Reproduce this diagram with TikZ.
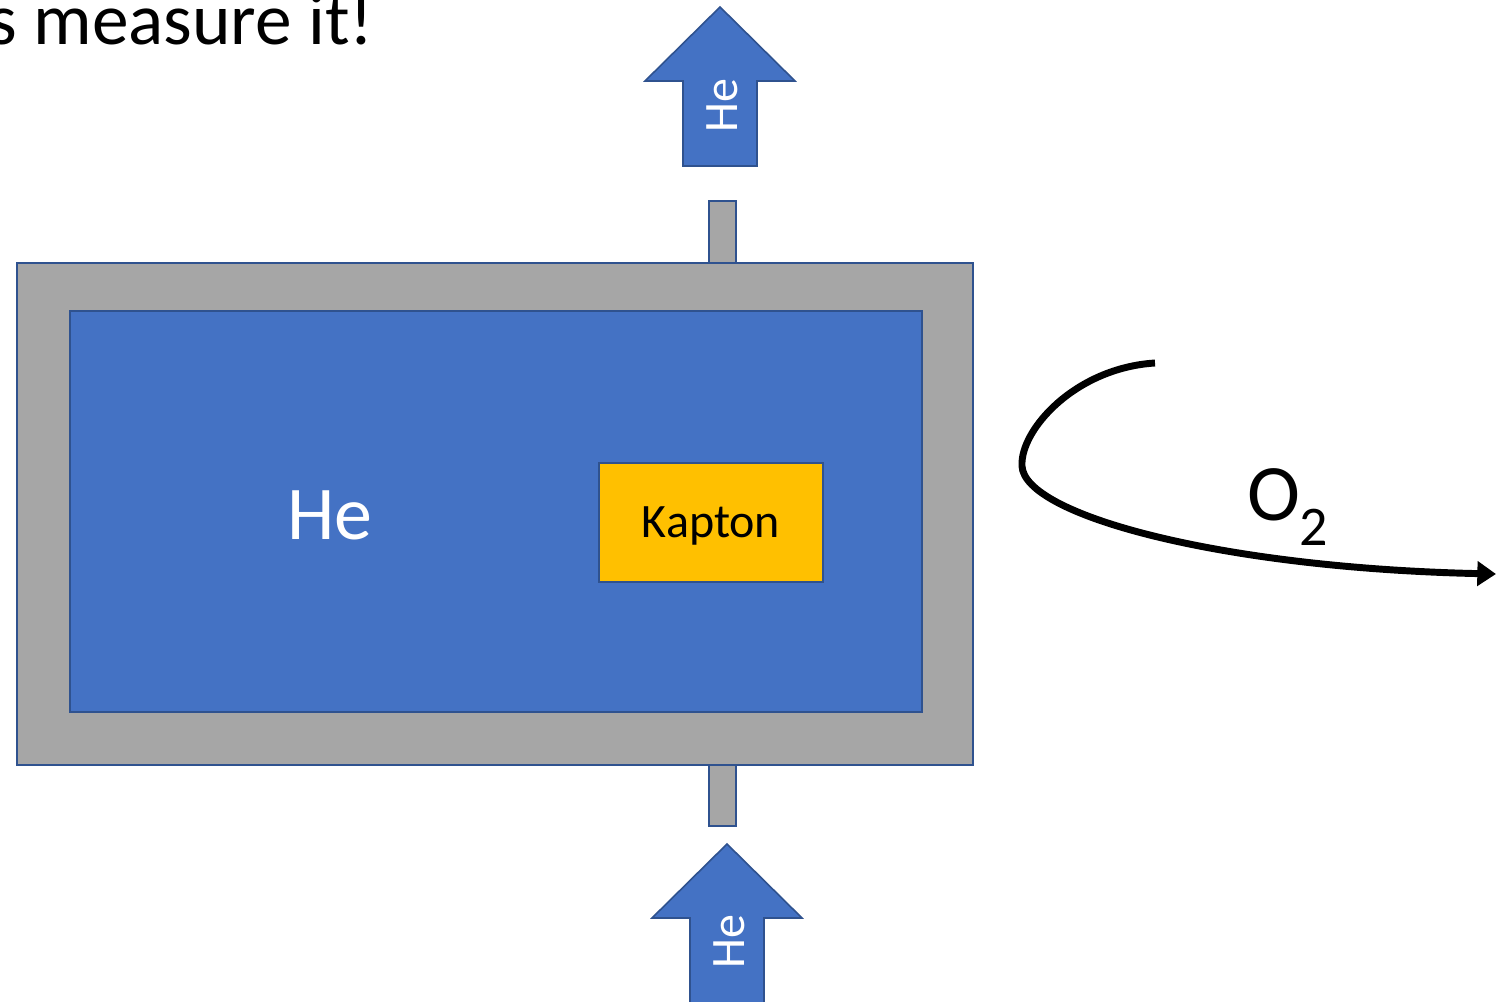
\documentclass[tikz,border=0pt]{standalone}
\usepackage{fontspec}
\setmainfont{Carlito}
\usetikzlibrary{arrows.meta}
\definecolor{hefill}{HTML}{4472C4}
\definecolor{hedraw}{HTML}{2F528F}
\definecolor{wallgray}{HTML}{A6A6A6}
\definecolor{kapton}{HTML}{FFC000}
\tikzset{
  wall/.style={fill=wallgray, draw=hedraw, line width=1.5pt},
  gas/.style={fill=hefill, draw=hedraw, line width=1.5pt},
  kaptonbox/.style={fill=kapton, draw=hedraw, line width=1.5pt},
  flowarrow/.style={fill=hefill, draw=hedraw, line width=1.2pt},
  arrowlabel/.style={text=white, font=\fontsize{36}{40}\selectfont, rotate=90, inner sep=0pt},
}
\begin{document}
\begin{tikzpicture}[x=0.75pt, y=-0.75pt]
\useasboundingbox (0,0) rectangle (1496,1002);
\clip (0,0) rectangle (1496,1002);
% title
\node[anchor=base west, inner sep=0pt, font=\fontsize{55}{62}\selectfont] (title) at (-12,45) {s measure it!};
% stubs
\draw[wall] (709,201) rectangle (736,263);
\draw[wall] (709,765) rectangle (736,826);
% chamber
\draw[wall] (17,263) rectangle (973,765);
\draw[gas] (70,311) rectangle (922,712);
\node[text=white, font=\fontsize{57}{64}\selectfont, inner sep=0pt] (helabel) at (330,515) {He};
\draw[kaptonbox] (599,463) rectangle (823,582);
\node[font=\fontsize{36}{40}\selectfont, inner sep=0pt] (kaplabel) at (711,526) {Kapton};
% top arrow
\draw[flowarrow] (720,7) -- (795,81) -- (757,81) -- (757,166) -- (683,166) -- (683,81) -- (645,81) -- cycle;
\node[arrowlabel] (toplabel) at (722,106) {He};
% bottom arrow
\draw[flowarrow] (727,844) -- (802,918) -- (764,918) -- (764,1012) -- (690,1012) -- (690,918) -- (652,918) -- cycle;
\node[arrowlabel] (botlabel) at (729,942) {He};
% O2 curve
\coordinate (cstart) at (1155,363);
\coordinate (cleft) at (1022,466);
\coordinate (cend) at (1496,574);
\draw[line width=5.2pt, -{Triangle[length=14pt,width=18pt]}] (cstart) .. controls (1075,368) and (1020,430) .. (cleft) .. controls (1024,515) and (1220,568) .. (cend);
\node[font=\fontsize{60}{66}\selectfont, inner sep=0pt] (o2) at (1288,507) {O\textsubscript{2}};
\end{tikzpicture}
\end{document}
